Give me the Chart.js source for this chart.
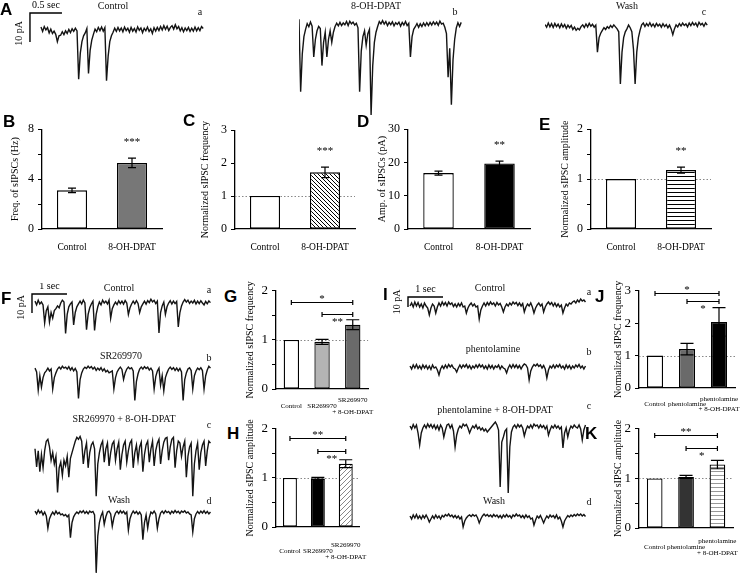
<!DOCTYPE html>
<html>
<head>
<meta charset="utf-8">
<script src="https://cdn.jsdelivr.net/npm/chart.js@4.4.0/dist/chart.umd.min.js"></script>
<style>
body { margin: 0; background: #fff; }
#fig { position: relative; width: 750px; height: 575px; overflow: hidden; font-family: "Liberation Serif", "Times New Roman", serif; color: #111; }
.lbl { position: absolute; font-size: 10px; line-height: 1; transform: translate(-50%, -50%); white-space: nowrap; }
.pl { position: absolute; font: bold 17px "Liberation Sans", Arial, sans-serif; line-height: 1; color: #000; }
</style>
</head>
<body>
<div id="fig"></div>
<script>
// ---- bar data ----
const catsDPAT = ['Control', '8-OH-DPAT'];
const freqHz = [3.1, 5.3];
const freqHzErr = [0.18, 0.38];
const normFreq = [1, 1.72];
const normFreqErr = [0, 0.16];
const ampPA = [16.8, 19.7];
const ampPAErr = [0.6, 0.7];
const normAmp = [1, 1.18];
const normAmpErr = [0, 0.06];
const starsB = ['', '***'];
const starsC = ['', '***'];
const starsD = ['', '**'];
const starsE = ['', '**'];

const catsSR = ['Control', 'SR269970', ['SR269970', '+ 8-OH-DPAT']];
const freqSR = [1, 0.96, 1.31];
const freqSRErr = [0, 0.05, 0.1];
const ampSR = [1, 0.99, 1.29];
const ampSRErr = [0, 0.02, 0.08];
const bracketsG = [[0, 2, 1.78, '*', 'above'], [1, 2, 1.52, '**', 'below']];
const bracketsH = [[0, 2, 1.82, '**', 'above'], [1, 2, 1.54, '**', 'below']];

const catsPhen = ['Control', 'phentolamine', ['phentolamine', '+ 8-OH-DPAT']];
const freqPhen = [1, 1.2, 2.04];
const freqPhenErr = [0, 0.18, 0.44];
const ampPhen = [1, 1.03, 1.28];
const ampPhenErr = [0, 0.03, 0.085];
const bracketsJ = [[0, 2, 2.94, '*', 'above'], [1, 2, 2.67, '*', 'below']];
const bracketsK = [[0, 2, 1.88, '**', 'above'], [1, 2, 1.62, '*', 'below']];

// ---- current traces (pA, baseline 0) ----
const dtA = 0.0256, dtF = 0.046, dtI = 0.046;   // s per sample
const scaleA = [0.5, 10], scaleF = [1, 10], scaleI = [1, 10];  // sec, pA

const traceAControl = [1,-0.5,1.2,0,0.8,-1,0.3,-1.2,-0.4,-1.5,
 -4,-2,-1.8,-0.6,-1.6,-0.3,-1.2,0.2,-0.9,0.4,
 -0.5,0.6,-0.3,-17,-8,-4,-2,-1,0.5,-15,
 -7,-3.5,-1.5,0.3,-0.6,0.9,-0.2,1,-0.4,0.8,
 -17.5,-9,-4,-2,-0.8,0.6,-0.5,0.9,-0.3,0.7,
 -0.6,1,-0.2,0.6,-0.8,0.9,-0.4,0.5,-0.7,1.1,
 -0.1,0.7,-0.9,0.6,-0.3,1,-0.5,0.4,-1.2,0.8,
 -0.4,0.9,-0.2,1.2,0,1.5,0.2,1.3,-0.2,0.9,
 1.5,0.3,1.8,0.4,1.2,-0.3,0.8,-0.6,0.7,-0.2,
 0.9,-0.5,0.6,-0.4,1,-0.3,0.8,-0.2,1.2,0.5];
const traceADPAT = [2,-23,-10,-4,-1.5,0.5,-0.6,1,-0.4,-11,
 -5,-2,-0.5,-1.2,-14,-6,-2.5,-11,-5,-2,
 -6,-2.5,-0.5,0.6,-0.3,0.9,-0.2,0.7,0.1,1.2,
 -0.2,1.3,0.4,1,0,0.6,-1,-23,-9,-4,
 -2,-7,-3,-1.5,-31,-14,-6,-2.5,-0.5,1.2,
 0.4,1.5,0.3,1.2,-0.2,0.9,0.1,1.1,-0.3,0.8,
 0.2,1,-0.4,0.9,0,1.2,-0.2,0.6,-11,-4,
 -1.5,-0.6,0.5,-0.8,0.4,-0.5,0.7,-0.3,0.8,-0.2,
 0.9,0,1.1,0.2,1,-0.1,1.3,0.3,0.6,-0.8,
 -3,-18,-8,-27.5,-12,-5,-1,0.8,-0.5,0.9];
const traceAWash = [0.5,-0.4,1,-0.3,0.8,-0.5,0.9,-0.2,0.6,-0.6,
 0.7,-0.4,0.5,-0.8,0.3,-0.6,0.2,-1.2,-0.4,-1.5,
 -0.8,-1.3,-0.2,0.4,-0.5,0.7,-0.3,0.9,-0.1,0.6,
 -0.4,0.3,-9,-4,-2.5,-1.5,-0.6,-1.2,-0.2,-0.8,
 0.2,-0.5,0.4,-0.3,-1,-2,-20,-9,-4,-2,
 -1,0.3,-0.6,-2,-8,-20,-9,-4,-1.5,0.4,
 1,-0.2,0.8,0,1.1,-0.1,0.7,-0.3,0.9,0,
 0.6,-0.4,0.8,-0.2,0.5,-0.6,0.3,-1,-3,-1,
 0.4,-0.3,0.8,0,1,0.2,0.7,-0.3,1,0.1,
 1.2,0.3,1,-0.2,1.3,0.4,0.9,-0.1,1.1,0.3];

const traceFControl = [1,-1,1.5,-0.5,0.5,-1,-10.5,-4,-2,-10,
 -5,-8,-4,-3,-1.5,-2.5,0,1.5,0.5,-16,
 -6,-2,-0.5,0.5,-11.5,-5,-2,-0.5,1,-0.5,
 1.5,0,-14,-6,-2.5,-0.5,1,-14.5,-6,-2,
 0.5,-1,1.5,0,1,-0.5,1.5,-8,-3,-1,
 0.5,-0.8,1.2,-0.3,1,-0.6,1.3,0,-6,-2.5,
 -0.5,1,-0.4,1.2,-0.2,-5,-2,-0.5,1,-0.6,
 1.3,0.2,2,0.6,1.4,-0.3,1,-15.8,-5,-1.5,
 0.5,-6,-2,0,1.2,-0.5,1,-0.3,0.8,-12.6,
 -5,-1.5,0.5,1.8,0.5,1.5,-0.2,1,0,1.4,
 -0.5,1,-0.3,1.2,0,-1,0.8,-0.4,1.1,0.2];
const traceFSR = [1,-1,-10.5,-3,-9,-4,-1.5,-0.5,1,-0.5,
 0.5,-10,-4,-1.5,0.5,1.5,0.5,2,1,1.5,
 0.5,1.8,0,1.2,-0.5,0.8,-1,-15,-5,-1.5,
 0.5,1.5,0.8,2,1,1.8,0.5,1.5,-0.2,1,
 0,1.2,-0.5,0.6,-1,-0.2,-1.5,-1,-0.5,-10,
 -4,-1,0.5,1.5,0.3,-5,-1.5,0.5,1.5,0.6,
 1.2,-0.5,-16,-6,-2,0.5,1.5,0.5,1.8,0.8,
 1.5,0,1,-0.5,-10,-3.5,-0.5,1,-8,-3,
 -11,-4,-1.5,0.5,1.5,0.3,1.2,-0.2,1,-0.5,
 0.8,-1,-16,-5,-1.5,0.5,1.2,-0.3,-10,-3,
 -0.5,1,0.2,1.2,-0.3,-10,-3,0,2,1];
const traceFSRDPAT = [-2,-11.5,-3,-14,-5,-12,-3,2,3,-1,
 -8,-4,-10,-6,-25,-12,-9,-16,-8,-11,
 -6,-17,-7,-4,-1,2,4,3,4.5,2,
 -10,-3,1,-12,-4,0,1.5,-2,-27,-10,
 -4,0,2,-9,-2,1,-11,-4,0.5,2,
 -8,-2,1.5,-13,-5,0,2,-9,-3,1,
 2.5,-12,-4,0,-8,-1,1.5,-14,-5,0,
 2,-9,-2,2,-11,-3,1,3,-10,-3,
 1.5,3.5,4,-8,-1,3,4,-12,-3,2,
 1,-6,-1,2,-17,-6,-1,1,-27,-10,
 -3,1,-13,-4,0,2,-11,-3,2,1];
const traceFWash = [1,-0.5,1.5,0,1,-1,0.5,-1.5,-8,-3,
 -1,0.5,-0.8,1,-0.5,0.3,-1,-0.5,-1.5,-0.8,
 -2,-1,-13,-5,-2,-0.5,0.5,-0.3,1,0.2,
 1.2,-0.2,0.8,-0.4,1,0.3,0.8,-1,-31.5,-12,
 -5,-1.5,0.5,-6,-2,0.5,1,-0.5,-7,-2.5,
 0,1,-0.3,1.2,0,1,-0.5,0.5,-9,-3,
 -0.5,1,-0.2,0.8,-0.6,0.5,-1,-14,-5,-1,
 -8,-2.5,0.5,-0.3,1,-0.5,-8,-3,0,1,
 -0.2,1.2,0.2,0.8,-0.5,1,0,1.3,0.2,0.9,
 -0.3,1,0.4,1.2,0,0.6,-0.5,-1,-10,-3,
 -0.5,0.8,-0.3,1,0,1.2,-0.2,0.8,-0.5,0.5];

const traceIControl = [-1,2,-2,3,-1,2.5,-2,1,-3,2,
 -1,-3,-10,-3,1,-1,-8,-2,2,-1,
 3,0,2.5,-1,3,0.5,2,-1.5,1,-2,
 1.5,-1,2,-2,-1,-8,-3,0,2,-1,
 1,-2,-1,-14,-5,-1,2,-1,2.5,0,
 3,0.5,2,-1,2.5,0,1.5,-2,-7,-2,
 1,-1,2,0,3,1,2.5,-0.5,2,-1,
 1.5,-7,-2,1,-1,2,-2,-8,-3,0,
 2,-1,1,-7,-2,1,3,0.5,2.5,-1,
 2,-1.5,1,-2,0,-8,-3,1,-1,2,
 1,3,4,2,5,3,6,4,5,3];
const traceIPhen = [1,-2,2,-1,2.5,-1.5,1,-2,2,-1,
 1.5,-2,1,-2.5,2,-1,0,-3,-8,-2,
 1,-1.5,2,-1,2.5,0,2,-1,-2,-5,
 -1,2,-1,2,0,2.5,-1,1.5,-2,1,
 -1,2,-0.5,2.5,0,2,-1.5,1,-2,2,
 -1,1.5,-2,1,-0.5,2,-2,1,-1,-2,
 -6,-1,2,-1,2.5,-0.5,2,-1,1.5,-2,
 1,3,2,-1,-13,-4,0,2.5,1,3,
 0.5,2,-1,1.5,-2,-11,-3,1,-1,2,
 -1,2,0,2.5,-1,1,-2,2,-1,1.5,
 -2,1,-1,2,0,2.5,-1,1,-2,1];
const traceIPhenDPAT = [1,-2,2.5,-1,2,-6,-18,-6,-1,2,
 -1,3,0,2.5,-1,2,-2,1.5,-3,2,
 -1,-10,-3,2,3,-1,2,-4,-20,-8,
 -2,1,-1,3,1,2.5,-1,-6,-2,1,
 -1,2,-2,0,-3,-1,-4,-2,-5,-3,
 -1,1,3,5,2,-3,-60,-15,-10,-4,
 -2,-66,-20,-5,0,2,-1,2.5,0,2,
 -1,-9,-3,1,-1,2,-1,3,1,2,
 -1,2,-0.5,1.5,-2,1,-8,-3,1,-1,
 2,-1,1,-2,0,-21,-6,-1,-10,-3,
 1,-1,2,0,-1,2,-2,-13,-3,2];
const traceIWash = [1,-2,2,-1,2.5,-1.5,1,-2,1.5,-1,
 2,-1,-5,-2,1,-1.5,2,-1,1,-2,
 1.5,0,2.5,1,3,0.5,2,-0.5,1.5,-1,
 1,-2,0,-10,-4,-1,1,2,0.5,2.5,
 1,2,-1,-6,-2,1,3,1,2.5,0.5,
 2,0,2.5,0.5,2,-0.5,1.5,-1,2,0,
 2.5,0,1.5,-1,2,0.5,3,1,2,-0.5,
 1.5,-1,2,-0.5,1,-2,-1,-8,-3,1,
 -1,1.5,-2,-6,-2,1,-1,2,0,1.5,
 -1,2,-2,0,-4,-10,-4,-1,1.5,0,
 2,0.5,2.5,1,3,1.5,3,1,2.5,0.5];

// ---- helpers ----
const SERIF = '"Liberation Serif", "Times New Roman", serif';
Chart.defaults.font.family = SERIF;
Chart.defaults.color = '#000';
const fig = document.getElementById('fig');

function addCanvas(l, t, w, h) {
  const c = document.createElement('canvas');
  c.width = w; c.height = h;
  c.style.cssText = `position:absolute;left:${l}px;top:${t}px;width:${w}px;height:${h}px`;
  fig.appendChild(c);
  return c;
}
function addText(txt, x, y, cls) {
  const d = document.createElement('div');
  d.className = cls;
  d.textContent = txt;
  d.style.left = x + 'px';
  d.style.top = y + 'px';
  fig.appendChild(d);
}
function hatch(kind, color, size) {
  const t = document.createElement('canvas');
  t.width = t.height = size;
  const g = t.getContext('2d');
  g.fillStyle = '#fff'; g.fillRect(0, 0, size, size);
  g.strokeStyle = color; g.lineWidth = 1;
  g.beginPath();
  if (kind === 'back') {
    g.moveTo(0, 0); g.lineTo(size, size);
    g.moveTo(-1, size - 1); g.lineTo(1, size + 1);
    g.moveTo(size - 1, -1); g.lineTo(size + 1, 1);
  } else if (kind === 'fwd') {
    g.moveTo(0, size); g.lineTo(size, 0);
    g.moveTo(-1, 1); g.lineTo(1, -1);
    g.moveTo(size - 1, size + 1); g.lineTo(size + 1, size - 1);
  } else {
    g.moveTo(0, size / 2 + 0.5); g.lineTo(size, size / 2 + 0.5);
  }
  g.stroke();
  return document.createElement('canvas').getContext('2d').createPattern(t, 'repeat');
}

// error bars, stars, brackets, dotted line at 1
const barExtras = {
  id: 'barExtras',
  beforeDatasetsDraw(chart, args, o) {
    if (!o || o.refLine == null) return;
    const { ctx, chartArea: a, scales: { y } } = chart;
    const py = Math.round(y.getPixelForValue(o.refLine)) + 0.5;
    ctx.save();
    ctx.strokeStyle = '#888'; ctx.lineWidth = 1; ctx.setLineDash([1.5, 2]);
    ctx.beginPath(); ctx.moveTo(a.left, py); ctx.lineTo(a.right, py); ctx.stroke();
    ctx.restore();
  },
  afterDatasetsDraw(chart, args, o) {
    const { ctx, scales: { y } } = chart;
    const bars = chart.getDatasetMeta(0).data;
    const vals = chart.data.datasets[0].data;
    const err = o.err || [];
    ctx.save();
    ctx.strokeStyle = '#000'; ctx.fillStyle = '#000'; ctx.lineWidth = 1.2;
    err.forEach((e, i) => {
      if (!e) return;
      const bx = bars[i].x;
      const yt = y.getPixelForValue(vals[i] + e), yb = y.getPixelForValue(vals[i] - e);
      ctx.beginPath();
      ctx.moveTo(bx, yb); ctx.lineTo(bx, yt);
      ctx.moveTo(bx - o.cap, yt); ctx.lineTo(bx + o.cap, yt);
      ctx.moveTo(bx - o.cap, yb); ctx.lineTo(bx + o.cap, yb);
      ctx.stroke();
    });
    ctx.font = `11px ${SERIF}`;
    ctx.textAlign = 'center'; ctx.textBaseline = 'middle';
    (o.stars || []).forEach((s, i) => {
      if (!s) return;
      ctx.fillText(s, bars[i].x, y.getPixelForValue(vals[i] + (err[i] || 0)) - 16);
    });
    (o.brackets || []).forEach(([a, b, lvl, s, side]) => {
      const xa = bars[a].x, xb = bars[b].x, py = Math.round(y.getPixelForValue(lvl)) + 0.5;
      ctx.beginPath();
      ctx.moveTo(xa, py - 2.5); ctx.lineTo(xa, py + 2.5);
      ctx.moveTo(xa, py); ctx.lineTo(xb, py);
      ctx.moveTo(xb, py - 2.5); ctx.lineTo(xb, py + 2.5);
      ctx.stroke();
      ctx.fillText(s, (xa + xb) / 2, side === 'above' ? py - 3 : py + 8);
    });
    ctx.restore();
  }
};

function barPanel(p) {
  const c = addCanvas(p.box[0], p.box[1], p.box[2], p.box[3]);
  new Chart(c, {
    type: 'bar',
    data: {
      labels: p.cats,
      datasets: [{
        data: p.vals, backgroundColor: p.colors, borderColor: '#000', borderWidth: 1.3,
        borderSkipped: false, categoryPercentage: 1, barPercentage: 0.5
      }]
    },
    options: {
      responsive: false, animation: false, events: [],
      layout: { padding: { top: p.pad[0], right: p.pad[1], left: 0, bottom: 0 } },
      plugins: {
        legend: { display: false }, tooltip: { enabled: false },
        barExtras: { err: p.err, stars: p.stars, brackets: p.brackets, refLine: p.ref, cap: p.cap }
      },
      scales: {
        x: {
          grid: { display: false },
          border: { color: '#000', width: 1.3 },
          ticks: { color: '#000', font: { size: p.catSize, lineHeight: p.catLH }, padding: p.catPad,
                   maxRotation: 0, autoSkip: false, crossAlign: 'center' },
          afterFit(s) { s.height = p.xh; }
        },
        y: {
          min: 0, max: p.ymax,
          border: { color: '#000', width: 1.3 },
          grid: { drawOnChartArea: false, color: '#000', tickLength: 4, lineWidth: 1 },
          ticks: {
            stepSize: p.step, color: '#000', font: { size: p.tickSize }, padding: 4,
            callback: v => Math.abs(v / p.major - Math.round(v / p.major)) < 1e-6 ? v : ''
          },
          title: { display: true, text: p.title, color: '#000', font: { size: 10 }, padding: 0 },
          afterFit(s) { s.width = p.yw; }
        }
      }
    },
    plugins: [barExtras]
  });
}

// scale bar drawn in data units of the trace
const scaleBar = {
  id: 'scaleBar',
  afterDatasetsDraw(chart, args, o) {
    if (!o || !o.len) return;
    const { ctx, scales: { x, y } } = chart;
    const x0 = x.getPixelForValue(o.t0), x1 = x.getPixelForValue(o.t0 + o.len[0]);
    const y0 = y.getPixelForValue(o.v0), y1 = y.getPixelForValue(o.v0 - o.len[1]);
    ctx.save();
    ctx.strokeStyle = '#000'; ctx.lineWidth = 1.4;
    ctx.beginPath(); ctx.moveTo(x1, y0); ctx.lineTo(x0, y0); ctx.lineTo(x0, y1); ctx.stroke();
    ctx.fillStyle = '#000'; ctx.font = `10px ${SERIF}`;
    ctx.textAlign = 'center'; ctx.textBaseline = 'middle';
    ctx.fillText(o.len[0] + ' sec', (x0 + x1) / 2, y0 - 8);
    ctx.translate(x0 - 11, (y0 + y1) / 2 + o.dy);
    ctx.rotate(-Math.PI / 2);
    ctx.fillText(o.len[1] + ' pA', 0, 0);
    ctx.restore();
  }
};

function tracePanel(box, vals, dt, xr, yr, bar) {
  const c = addCanvas(box[0], box[1], box[2], box[3]);
  new Chart(c, {
    type: 'line',
    data: { datasets: [{ data: vals.map((v, i) => ({ x: i * dt, y: v })), borderColor: '#141414',
                         borderWidth: 1.4, pointRadius: 0, tension: 0 }] },
    options: {
      responsive: false, animation: false, events: [], layout: { padding: 0 },
      plugins: { legend: { display: false }, tooltip: { enabled: false }, scaleBar: bar || {} },
      scales: {
        x: { type: 'linear', display: false, min: xr[0], max: xr[1] },
        y: { display: false, min: yr[0], max: yr[1] }
      }
    },
    plugins: [scaleBar]
  });
}

// ---- panel A traces ----
const yrA = [-32.76, 10.34];
tracePanel([10, 0, 200, 125], traceAControl, dtA, [-0.484, 2.641], yrA,
           { t0: -0.172, v0: 5.86, len: scaleA, dy: 6 });
tracePanel([299, -5, 165, 125], traceADPAT, dtA, [0, 2.578], yrA);
tracePanel([545, -4, 165, 125], traceAWash, dtA, [0, 2.578], yrA);

// ---- panel F traces ----
const yrF = [-31.58, 10.53];
tracePanel([10, 283, 205, 80], traceFControl, dtF, [-0.714, 5.143], yrF,
           { t0: -0.0857, v0: 4.74, len: scaleF, dy: 4 });
tracePanel([30, 350, 185, 80], traceFSR, dtF, [-0.143, 5.143], yrF);
tracePanel([30, 425, 185, 80], traceFSRDPAT, dtF, [-0.143, 5.143], yrF);
tracePanel([30, 493, 185, 80], traceFWash, dtF, [-0.143, 5.143], yrF);

// ---- panel I traces ----
const yrI = [-70, 15];
tracePanel([380, 280, 210, 95], traceIControl, dtI, [-0.857, 5.143], [-70, 25],
           { t0: -0.057, v0: 8, len: scaleI, dy: 0 });
tracePanel([405, 352, 185, 85], traceIPhen, dtI, [-0.143, 5.143], yrI);
tracePanel([405, 412, 185, 85], traceIPhenDPAT, dtI, [-0.143, 5.143], yrI);
tracePanel([405, 502, 185, 85], traceIWash, dtI, [-0.143, 5.143], yrI);

// ---- bar panels ----
const hatchBack = hatch('back', '#000', 4);
const hatchFwd = hatch('fwd', '#888', 5);
const hatchHorizBlack = hatch('horiz', '#000', 4);
const hatchHorizGray = hatch('horiz', '#999', 4);

const small = { catSize: 9.5, catLH: 1.2, catPad: 10, tickSize: 12, cap: 4 };
const big = { catSize: 7, catLH: 1.71, tickSize: 13, cap: 6.5 };

barPanel({ ...small, box: [9, 118, 163, 144], yw: 33, xh: 33, pad: [10, 10], cats: catsDPAT,
  vals: freqHz, err: freqHzErr, stars: starsB, colors: ['#fff', '#777'],
  ymax: 8, step: 2, major: 4, title: 'Freq. of sIPSCs (Hz)' });
barPanel({ ...small, box: [199, 119, 166, 143], yw: 36, xh: 33, pad: [10, 10], cats: catsDPAT,
  vals: normFreq, err: normFreqErr, stars: starsC, colors: ['#fff', hatchBack], ref: 1,
  ymax: 3, step: 0.5, major: 1, title: 'Normalized sIPSC frequency' });
barPanel({ ...small, box: [376, 118, 164, 144], yw: 32, xh: 33, pad: [10, 10], cats: catsDPAT,
  vals: ampPA, err: ampPAErr, stars: starsD, colors: ['#fff', '#000'],
  ymax: 30, step: 5, major: 10, title: 'Amp. of sIPSCs (pA)' });
barPanel({ ...small, box: [559, 118, 162, 144], yw: 32, xh: 33, pad: [10, 10], cats: catsDPAT,
  vals: normAmp, err: normAmpErr, stars: starsE, colors: ['#fff', hatchHorizBlack], ref: 1,
  ymax: 2, step: 0.5, major: 1, title: 'Normalized sIPSC amplitude' });

barPanel({ ...big, box: [244, 279, 133, 145], yw: 32, xh: 35, pad: [10, 5], catPad: 3, cats: catsSR,
  vals: freqSR, err: freqSRErr, brackets: bracketsG, colors: ['#fff', '#b4b4b4', '#6a6a6a'], ref: 1,
  ymax: 2, step: 0.5, major: 1, title: 'Normalized sIPSC frequency' });
barPanel({ ...big, box: [244, 417, 133, 150], yw: 32, xh: 40, pad: [10, 5], catPad: 10, cats: catsSR,
  vals: ampSR, err: ampSRErr, brackets: bracketsH, colors: ['#fff', '#000', hatchFwd], ref: 1,
  ymax: 2, step: 0.5, major: 1, title: 'Normalized sIPSC amplitude' });
barPanel({ ...big, box: [612, 279, 133, 145], yw: 27, xh: 36, pad: [10, 10], catPad: 3, catLH: 1.45, cats: catsPhen,
  vals: freqPhen, err: freqPhenErr, brackets: bracketsJ, colors: ['#fff', '#6a6a6a', '#000'], ref: 1,
  ymax: 3, step: 0.5, major: 1, title: 'Normalized sIPSC frequency' });
barPanel({ ...big, box: [612, 417, 133, 150], yw: 27, xh: 39, pad: [10, 10], catPad: 5.5, cats: catsPhen,
  vals: ampPhen, err: ampPhenErr, brackets: bracketsK, colors: ['#fff', '#333', hatchHorizGray], ref: 1,
  ymax: 2, step: 0.5, major: 1, title: 'Normalized sIPSC amplitude' });

// ---- text ----
[['A', 0, 1], ['B', 3, 113], ['C', 183, 112], ['D', 357, 113], ['E', 539, 116], ['F', 1, 290],
 ['G', 224, 288], ['H', 227, 425], ['I', 383, 286], ['J', 595, 288], ['K', 585, 425]]
  .forEach(([t, x, y]) => addText(t, x, y, 'pl'));

[['Control', 113, 6], ['8-OH-DPAT', 376, 6], ['Wash', 627, 6], ['a', 200, 12], ['b', 455, 12], ['c', 704, 12],
 ['Control', 119, 288], ['SR269970', 121, 356], ['SR269970 + 8-OH-DPAT', 124, 419], ['Wash', 119, 500],
 ['a', 209, 290], ['b', 209, 358], ['c', 209, 425], ['d', 209, 501],
 ['Control', 490, 288], ['phentolamine', 493, 349], ['phentolamine + 8-OH-DPAT', 495, 410], ['Wash', 494, 501],
 ['a', 589, 292], ['b', 589, 352], ['c', 589, 406], ['d', 589, 502]]
  .forEach(([t, x, y]) => addText(t, x, y, 'lbl'));
</script>
</body>
</html>
